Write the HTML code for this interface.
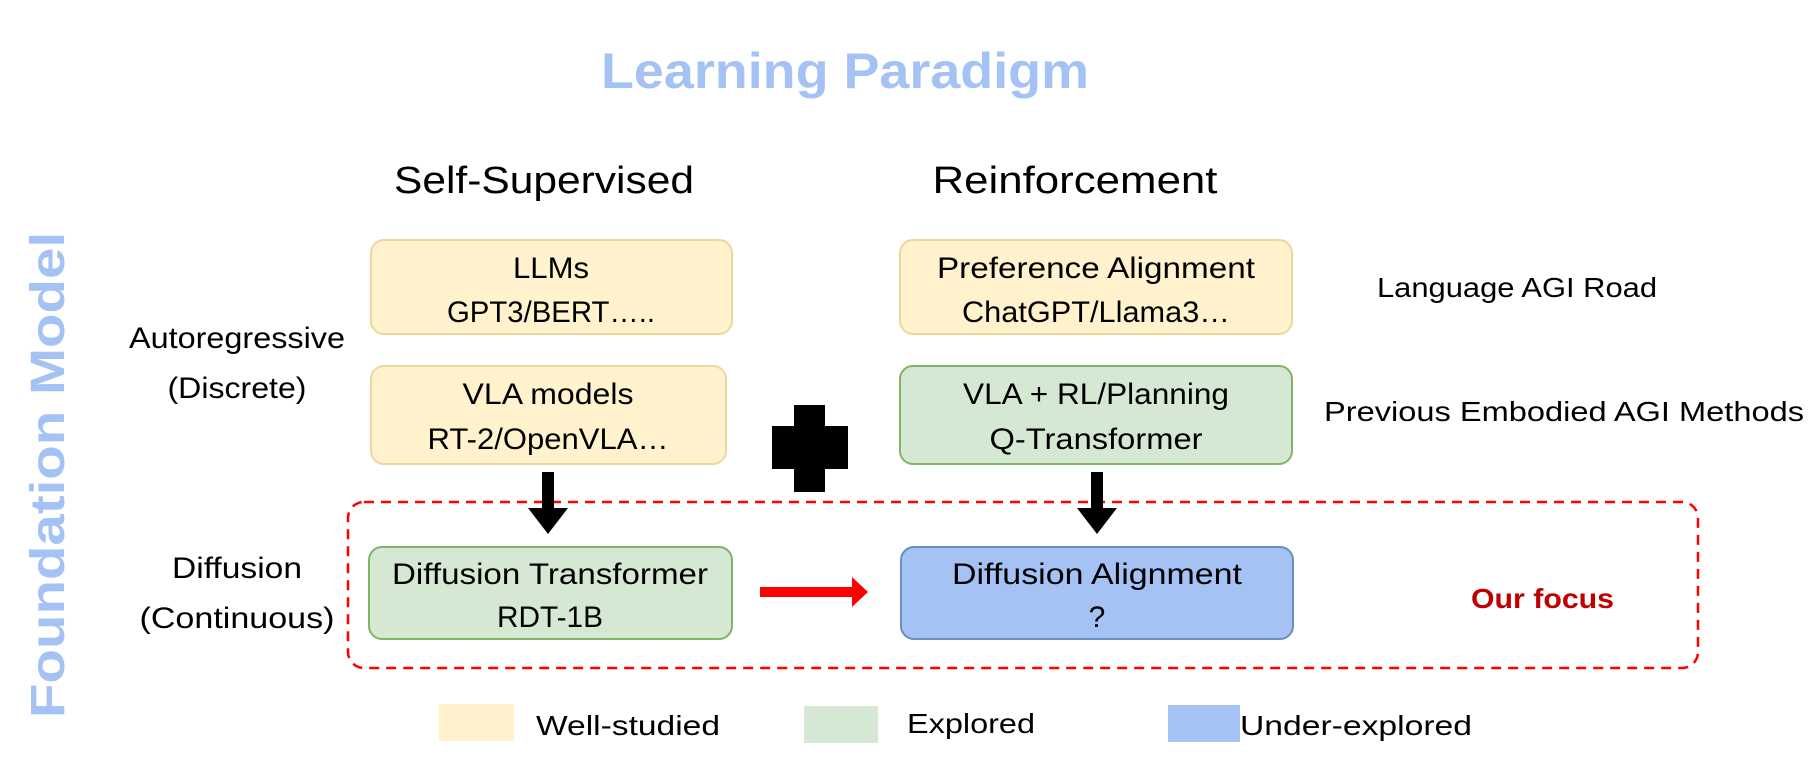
<!DOCTYPE html>
<html><head><meta charset="utf-8"><style>html,body{margin:0;padding:0;background:#fff}svg{display:block}</style></head>
<body>
<svg width="1816" height="774" viewBox="0 0 1816 774" xmlns="http://www.w3.org/2000/svg" font-family="Liberation Sans, sans-serif">
<rect width="1816" height="774" fill="#fff"/>
<text x="845" y="88" text-anchor="middle" font-size="50" font-weight="bold" fill="#a4c2f4" textLength="488" lengthAdjust="spacingAndGlyphs">Learning Paradigm</text>
<text x="544" y="193" text-anchor="middle" font-size="38" fill="#000" textLength="300" lengthAdjust="spacingAndGlyphs">Self-Supervised</text>
<text x="1075" y="193" text-anchor="middle" font-size="38" fill="#000" textLength="285" lengthAdjust="spacingAndGlyphs">Reinforcement</text>
<text transform="translate(64,475) rotate(-90)" text-anchor="middle" font-size="48" font-weight="bold" fill="#a4c2f4" textLength="486" lengthAdjust="spacingAndGlyphs">Foundation Model</text>
<g stroke-width="2">
<rect x="371" y="240" width="361" height="94" rx="13" fill="#fff2cc" stroke="#ecd89a"/>
<rect x="371" y="366" width="355" height="98" rx="13" fill="#fff2cc" stroke="#ecd89a"/>
<rect x="900" y="240" width="392" height="94" rx="13" fill="#fff2cc" stroke="#ecd89a"/>
<rect x="900" y="366" width="392" height="98" rx="13" fill="#d5e8d4" stroke="#82b366"/>
<rect x="369" y="547" width="363" height="92" rx="13" fill="#d5e8d4" stroke="#82b366"/>
<rect x="901" y="547" width="392" height="92" rx="13" fill="#a4c2f4" stroke="#6c8ebf"/>
</g>
<rect x="348" y="502" width="1350" height="166" rx="16" fill="none" stroke="#ff0000" stroke-width="2.5" stroke-dasharray="10,7"/>
<g font-size="30" fill="#000" text-anchor="middle">
<text x="551" y="278" textLength="76" lengthAdjust="spacingAndGlyphs">LLMs</text>
<text x="551" y="322" textLength="208" lengthAdjust="spacingAndGlyphs">GPT3/BERT…..</text>
<text x="548" y="404" textLength="171" lengthAdjust="spacingAndGlyphs">VLA models</text>
<text x="548" y="449" textLength="241" lengthAdjust="spacingAndGlyphs">RT-2/OpenVLA…</text>
<text x="1096" y="278" textLength="318" lengthAdjust="spacingAndGlyphs">Preference Alignment</text>
<text x="1096" y="322" textLength="268" lengthAdjust="spacingAndGlyphs">ChatGPT/Llama3…</text>
<text x="1096" y="404" textLength="266" lengthAdjust="spacingAndGlyphs">VLA + RL/Planning</text>
<text x="1096" y="449" textLength="213" lengthAdjust="spacingAndGlyphs">Q-Transformer</text>
<text x="550" y="584" textLength="316" lengthAdjust="spacingAndGlyphs">Diffusion Transformer</text>
<text x="550" y="627" textLength="106" lengthAdjust="spacingAndGlyphs">RDT-1B</text>
<text x="1097" y="584" textLength="290" lengthAdjust="spacingAndGlyphs">Diffusion Alignment</text>
<text x="1097" y="627">?</text>
<text x="237" y="348" textLength="216" lengthAdjust="spacingAndGlyphs">Autoregressive</text>
<text x="237" y="398" textLength="139" lengthAdjust="spacingAndGlyphs">(Discrete)</text>
<text x="237" y="578" textLength="130" lengthAdjust="spacingAndGlyphs">Diffusion</text>
<text x="237" y="628" textLength="195" lengthAdjust="spacingAndGlyphs">(Continuous)</text>
</g>
<g font-size="28" fill="#000">
<text x="1377" y="297" textLength="280" lengthAdjust="spacingAndGlyphs">Language AGI Road</text>
<text x="1324" y="421" textLength="480" lengthAdjust="spacingAndGlyphs">Previous Embodied AGI Methods</text>
<text x="536" y="735" textLength="184" lengthAdjust="spacingAndGlyphs">Well-studied</text>
<text x="907" y="733" textLength="128" lengthAdjust="spacingAndGlyphs">Explored</text>
<text x="1240" y="735" textLength="232" lengthAdjust="spacingAndGlyphs">Under-explored</text>
</g>
<text x="1471" y="608" font-size="28" font-weight="bold" fill="#c00000" textLength="143" lengthAdjust="spacingAndGlyphs">Our focus</text>
<rect x="794" y="405" width="31" height="87" fill="#000"/>
<rect x="772" y="426" width="76" height="43" fill="#000"/>
<path d="M542 472h12v36h14l-20 26l-20-26h14z" fill="#000"/>
<path d="M1091 472h12v36h14l-20 26l-20-26h14z" fill="#000"/>
<path d="M760 587h92v-10l16 15l-16 15v-10h-92z" fill="#ff0000"/>
<rect x="439" y="704" width="75" height="37" fill="#fff2cc"/>
<rect x="804" y="706" width="74" height="37" fill="#d5e8d4"/>
<rect x="1168" y="705" width="72" height="37" fill="#a4c2f4"/>
</svg>
</body></html>
